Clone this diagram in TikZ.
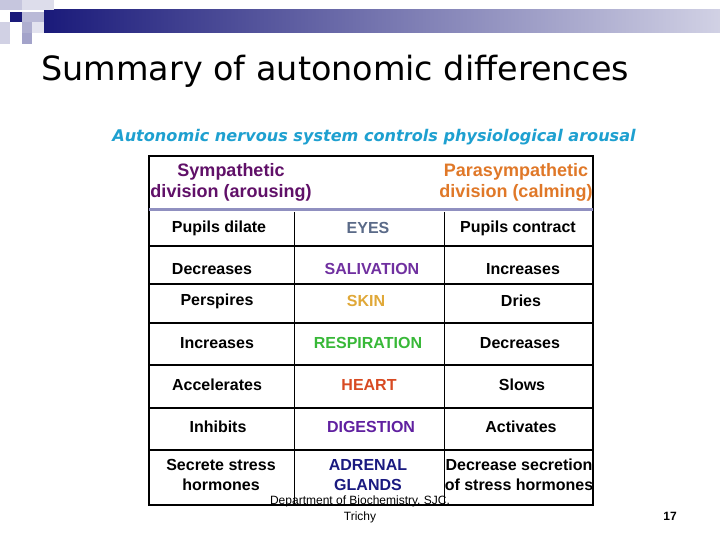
\documentclass[tikz,border=0pt]{standalone}
\usepackage{fontspec}
\setmainfont{Liberation Sans}
\newfontfamily\titlefont{DejaVu Sans}
\definecolor{navy}{HTML}{1A1A7A}
\definecolor{subblue}{HTML}{1EA0D0}
\definecolor{symp}{HTML}{601068}
\definecolor{para}{HTML}{E07828}
\definecolor{eyec}{HTML}{5A6A88}
\definecolor{salc}{HTML}{7030A0}
\definecolor{skinc}{HTML}{E0A838}
\definecolor{respc}{HTML}{38B838}
\definecolor{heartc}{HTML}{D84A22}
\definecolor{digc}{HTML}{6020A0}
\definecolor{adrc}{HTML}{1A1A80}
\definecolor{hdrline}{HTML}{9090C0}
\begin{document}
\begin{tikzpicture}[x=1pt,y=-1pt,
  cell/.style={font=\fontsize{16}{20}\selectfont\bfseries, align=center, anchor=center},
  hdr/.style={font=\fontsize{18}{21}\selectfont\bfseries, align=center}]
\useasboundingbox (0,0) rectangle (720,540);
\fill[white] (0,0) rectangle (720,540);
% banner
\shade[left color=navy, right color=navy!20] (44,10) rectangle (720,33);
\fill[navy!25] (0,0) rectangle (22,10);
\fill[navy!15] (22,0) rectangle (54,10);
\fill[navy] (10,12) rectangle (22,22);
\fill[navy!30] (22,12) rectangle (44,22);
\fill[navy!20] (0,22) rectangle (10,44);
\fill[navy!35] (22,22) rectangle (32,33);
\fill[navy!40] (22,33) rectangle (32,44);
\fill[navy!12] (32,22) rectangle (44,33);
% title
\node[font=\titlefont\fontsize{33.4}{36}\selectfont, anchor=west] (title) at (38,71) {Summary of autonomic differences};
\node[font=\titlefont\fontsize{16.1}{20}\selectfont\bfseries\itshape, text=subblue] (sub) at (374,137) {Autonomic nervous system controls physiological arousal};
% table
\draw[line width=1.6pt] (149,156) rectangle (593,505);
\draw[hdrline, line width=3pt] (149,210) -- (593,210);
\foreach \y in {246,284,323,365,408,450} \draw[line width=1.4pt] (149,\y) -- (593,\y);
\draw[line width=1pt] (294,212) -- (294,505);
\draw[line width=1pt] (444,212) -- (444,505);
\node[hdr, text=symp] (sh) at (231,182) {Sympathetic\\division (arousing)};
\node[hdr, text=para] (ph) at (516,182) {Parasympathetic\\division (calming)};
\node[cell] (a1) at (219,228) {Pupils dilate};
\node[cell, text=eyec] (b1) at (368,228) {EYES};
\node[cell] (c1) at (518,228) {Pupils contract};
\node[cell] (a2) at (212,269) {Decreases};
\node[cell, text=salc] (b2) at (372,269) {SALIVATION};
\node[cell] (c2) at (523,269) {Increases};
\node[cell] (a3) at (217,301) {Perspires};
\node[cell, text=skinc] (b3) at (366,301) {SKIN};
\node[cell] (c3) at (521,301) {Dries};
\node[cell] (a4) at (217,343) {Increases};
\node[cell, text=respc] (b4) at (368,343) {RESPIRATION};
\node[cell] (c4) at (520,343) {Decreases};
\node[cell] (a5) at (217,385) {Accelerates};
\node[cell, text=heartc] (b5) at (369,385) {HEART};
\node[cell] (c5) at (522,385) {Slows};
\node[cell] (a6) at (218,427) {Inhibits};
\node[cell, text=digc] (b6) at (371,427) {DIGESTION};
\node[cell] (c6) at (521,427) {Activates};
\node[cell] (a7) at (221,475) {Secrete stress\\hormones};
\node[cell, text=adrc] (b7) at (368,475) {ADRENAL\\GLANDS};
\node[cell] (c7) at (519,475) {Decrease secretion\\of stress hormones};
\node[font=\fontsize{12}{16}\selectfont, align=center] (dept) at (360,509) {Department of Biochemistry, SJC,\\Trichy};
\node[font=\fontsize{12}{14}\selectfont\bfseries] (pg) at (670,516) {17};
\end{tikzpicture}
\end{document}
